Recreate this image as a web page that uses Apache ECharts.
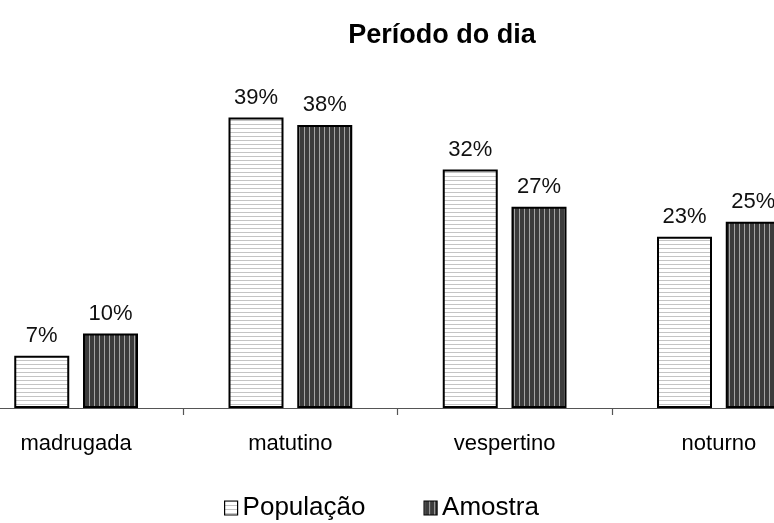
<!DOCTYPE html>
<html>
<head>
<meta charset="utf-8">
<script src="https://cdn.jsdelivr.net/npm/echarts@6/dist/echarts.min.js"></script>
<style>
  html, body { margin: 0; padding: 0; background: #fff; overflow: hidden; width: 774px; height: 523px; }
  /* the plot runs past both page edges, as in a cropped sheet */
  #chart { position: absolute; left: -31px; top: 0; width: 857px; height: 523px; }
</style>
</head>
<body>
<div id="chart"></div>
<script>
// Period of the day: share of records per period
const categories = ['madrugada', 'matutino', 'vespertino', 'noturno'];
const populacao = [7, 39, 32, 23];
const amostra = [10, 38, 27, 25];
const seriesNames = ['População', 'Amostra'];
const titleText = 'Período do dia';

const FONT = '"Liberation Sans", Arial, sans-serif';

// Horizontal light stripes on white
function stripesH() {
  const c = document.createElement('canvas');
  c.width = 4; c.height = 4;
  const g = c.getContext('2d');
  g.fillStyle = '#ffffff'; g.fillRect(0, 0, 4, 4);
  g.fillStyle = '#c4c4c4'; g.fillRect(0, 0, 4, 1);
  return c;
}
// Vertical light stripes on dark grey
function stripesV() {
  const c = document.createElement('canvas');
  c.width = 5; c.height = 5;
  const g = c.getContext('2d');
  g.fillStyle = '#3c3c3c'; g.fillRect(0, 0, 5, 5);
  g.fillStyle = '#a4a4a4'; g.fillRect(0, 0, 1, 5);
  return c;
}

const chart = echarts.init(document.getElementById('chart'), null, { renderer: 'canvas' });

const labelStyle = {
  show: true,
  position: 'top',
  distance: 9,
  formatter: '{c}%',
  fontFamily: FONT,
  fontSize: 22,
  color: '#111'
};

chart.setOption({
  animation: false,
  backgroundColor: '#ffffff',
  title: {
    text: titleText,
    left: 468,
    top: 17,
    textAlign: 'center',
    textStyle: { fontFamily: FONT, fontSize: 27, fontWeight: 'bold', color: '#000' }
  },
  legend: {
    data: seriesNames,
    icon: 'rect',
    left: 250,
    top: 490,
    itemWidth: 13,
    itemHeight: 14,
    itemGap: 58,
    textStyle: { fontFamily: FONT, fontSize: 26, color: '#000' },
    itemStyle: { borderWidth: 1.2, borderColor: '#000' }
  },
  grid: { left: 0, right: 0, top: 110, bottom: 115, containLabel: false },
  xAxis: {
    type: 'category',
    data: categories,
    axisLine: { lineStyle: { color: '#555', width: 1.2 } },
    axisTick: { show: true, length: 7, lineStyle: { color: '#555', width: 1.2 } },
    axisLabel: { margin: 25, fontFamily: FONT, fontSize: 22, color: '#000' }
  },
  yAxis: {
    type: 'value',
    min: 0,
    max: 40,
    show: false,
    splitLine: { show: false }
  },
  series: [
    {
      name: seriesNames[0],
      type: 'bar',
      data: populacao,
      barWidth: 55,
      barGap: '25%',
      itemStyle: {
        color: { image: stripesH(), repeat: 'repeat' },
        borderColor: '#000',
        borderWidth: 2
      },
      label: labelStyle
    },
    {
      name: seriesNames[1],
      type: 'bar',
      data: amostra,
      barWidth: 55,
      itemStyle: {
        color: { image: stripesV(), repeat: 'repeat' },
        borderColor: '#000',
        borderWidth: 2
      },
      label: labelStyle
    }
  ]
});
</script>
</body>
</html>
